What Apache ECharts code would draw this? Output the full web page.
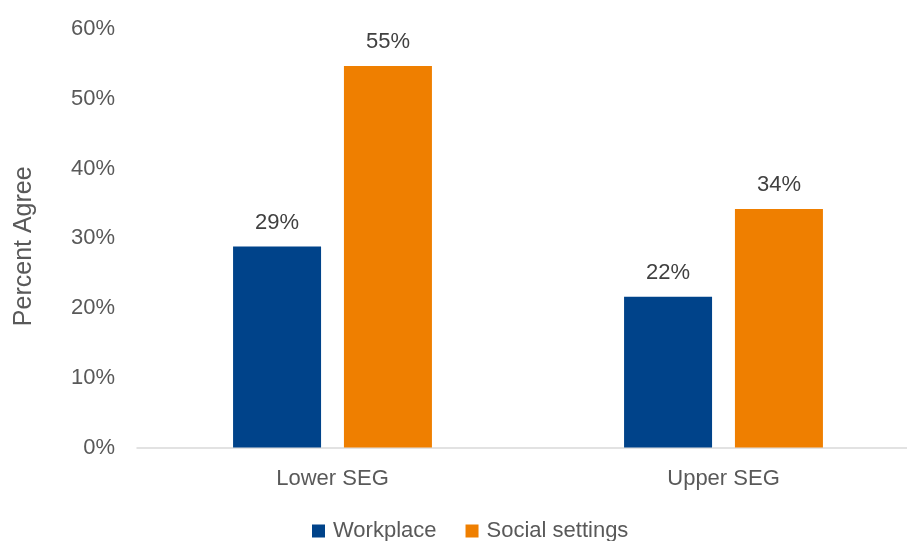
<!DOCTYPE html>
<html>
<head>
<meta charset="utf-8">
<script src="https://cdn.jsdelivr.net/npm/echarts@6/dist/echarts.min.js"></script>
<style>html,body{margin:0;padding:0;background:#fff;}#c{width:907px;height:541px;}</style>
</head>
<body>
<div id="c"></div>
<script>
const categories = ['Lower SEG', 'Upper SEG'];
const workplace = [0.288, 0.216];
const socialSettings = [0.547, 0.342];
const yTicks = { min: 0, max: 0.6, interval: 0.1 };

const FONT = '"Liberation Sans", Arial, sans-serif';
const TXT = '#595959';
const chart = echarts.init(document.getElementById('c'), null, { renderer: 'canvas' });
const pct = v => Math.round(v * 100) + '%';
chart.setOption({
  animation: false,
  textStyle: { fontFamily: FONT },
  grid: { left: 137, width: 782, top: 29, bottom: 93.5, outerBoundsMode: 'none', containLabel: false },
  legend: {
    top: 520, left: 312, padding: 0,
    itemWidth: 13, itemHeight: 13, itemGap: 29,
    icon: 'rect',
    textStyle: { fontSize: 22, color: TXT, fontFamily: FONT, padding: [0, 0, 0, 3] },
    data: ['Workplace', 'Social settings']
  },
  xAxis: {
    type: 'category', data: categories,
    axisLine: { lineStyle: { color: '#d9d9d9', width: 1.5 } },
    axisTick: { show: false },
    axisLabel: { fontSize: 22, color: TXT, margin: 20, fontFamily: FONT }
  },
  yAxis: {
    type: 'value', min: yTicks.min, max: yTicks.max, interval: yTicks.interval,
    name: 'Percent Agree', nameLocation: 'middle', nameGap: 100,
    nameTextStyle: { fontSize: 25, color: TXT, fontFamily: FONT, padding: [0, 16, 0, 0] },
    splitLine: { show: false },
    axisLine: { show: false }, axisTick: { show: false },
    axisLabel: { fontSize: 22, color: TXT, margin: 22, fontFamily: FONT, formatter: pct }
  },
  series: [
    { name: 'Workplace', type: 'bar', data: workplace, barWidth: 88, barGap: '26%',
      itemStyle: { color: '#00438a' },
      label: { show: true, position: 'top', distance: 13, fontSize: 22, color: '#404040', fontFamily: FONT, formatter: p => pct(p.value) } },
    { name: 'Social settings', type: 'bar', data: socialSettings, barWidth: 88,
      itemStyle: { color: '#ef7f00' },
      label: { show: true, position: 'top', distance: 13, fontSize: 22, color: '#404040', fontFamily: FONT, formatter: p => pct(p.value) } }
  ]
});
</script>
</body>
</html>
